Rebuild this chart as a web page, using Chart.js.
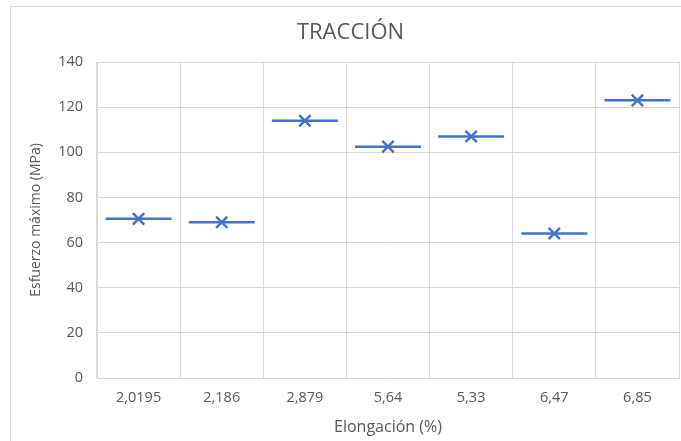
<!DOCTYPE html>
<html>
<head>
<meta charset="utf-8">
<script src="https://cdn.jsdelivr.net/npm/chart.js@4/dist/chart.umd.min.js"></script>
<style>
  html, body { margin: 0; padding: 0; background: #ffffff; }
  canvas { display: block; }
</style>
</head>
<body>
<canvas id="chart" width="681" height="441"></canvas>
<script>
// Elongación (%) per specimen, used as category labels
const elongacion = ['2,0195', '2,186', '2,879', '5,64', '5,33', '6,47', '6,85'];
// Esfuerzo máximo (MPa) per specimen
const esfuerzoMaximo = [70.5, 69, 114, 102.5, 107, 64, 123];
// Y axis range and step
const yMin = 0;
const yMax = 140;
const yStep = 20;

const blue = '#4472C4';
const grid = '#d9d9d9';
const textColor = '#595959';
const fontFamily = '"Open Sans", "Liberation Sans", sans-serif';

// White background and light frame around the whole chart
const framePlugin = {
  id: 'frame',
  beforeDraw(chart) {
    const ctx = chart.ctx;
    ctx.save();
    ctx.fillStyle = '#ffffff';
    ctx.fillRect(0, 0, chart.width, chart.height);
    ctx.strokeStyle = grid;
    ctx.lineWidth = 1;
    ctx.strokeRect(10.5, 6.5, 720, 500);
    ctx.restore();
  }
};

new Chart(document.getElementById('chart'), {
  type: 'line',
  data: {
    labels: elongacion,
    datasets: [
      {
        label: 'Esfuerzo máximo',
        data: esfuerzoMaximo,
        showLine: false,
        pointStyle: 'line',
        pointRadius: 33,
        pointHoverRadius: 33,
        pointBorderWidth: 2.5,
        borderColor: blue,
        backgroundColor: blue
      },
      {
        label: 'Esfuerzo máximo (marca)',
        data: esfuerzoMaximo,
        showLine: false,
        pointStyle: 'crossRot',
        pointRadius: 8,
        pointHoverRadius: 8,
        pointBorderWidth: 2.5,
        borderColor: blue,
        backgroundColor: blue
      }
    ]
  },
  options: {
    responsive: false,
    animation: false,
    devicePixelRatio: 1,
    events: [],
    layout: { autoPadding: false, padding: { left: 22, right: 2, top: 6, bottom: 0 } },
    plugins: {
      legend: { display: false },
      tooltip: { enabled: false },
      title: {
        display: true,
        text: 'TRACCIÓN',
        color: textColor,
        font: { family: fontFamily, size: 22, weight: 'normal' },
        padding: { top: 14, bottom: 15.6 }
      }
    },
    scales: {
      x: {
        offset: true,
        afterFit(scale) { scale.height = 63; },
        grid: { offset: true, color: grid, drawTicks: false },
        border: { color: grid },
        ticks: {
          color: textColor,
          padding: 11,
          maxRotation: 0,
          font: { family: fontFamily, size: 14.5 }
        },
        title: {
          display: true,
          text: 'Elongación (%)',
          color: textColor,
          font: { family: fontFamily, size: 16 },
          padding: { top: 6, bottom: 4 }
        }
      },
      y: {
        min: yMin,
        max: yMax,
        afterFit(scale) { scale.width = 75; },
        grid: { color: grid, drawTicks: false },
        border: { color: grid },
        ticks: {
          stepSize: yStep,
          color: textColor,
          padding: 14,
          font: { family: fontFamily, size: 14.5 }
        },
        title: {
          display: true,
          text: 'Esfuerzo máximo (MPa)',
          color: textColor,
          font: { family: fontFamily, size: 14 },
          padding: { top: 6, bottom: 6 }
        }
      }
    }
  },
  plugins: [framePlugin]
});
</script>
</body>
</html>
